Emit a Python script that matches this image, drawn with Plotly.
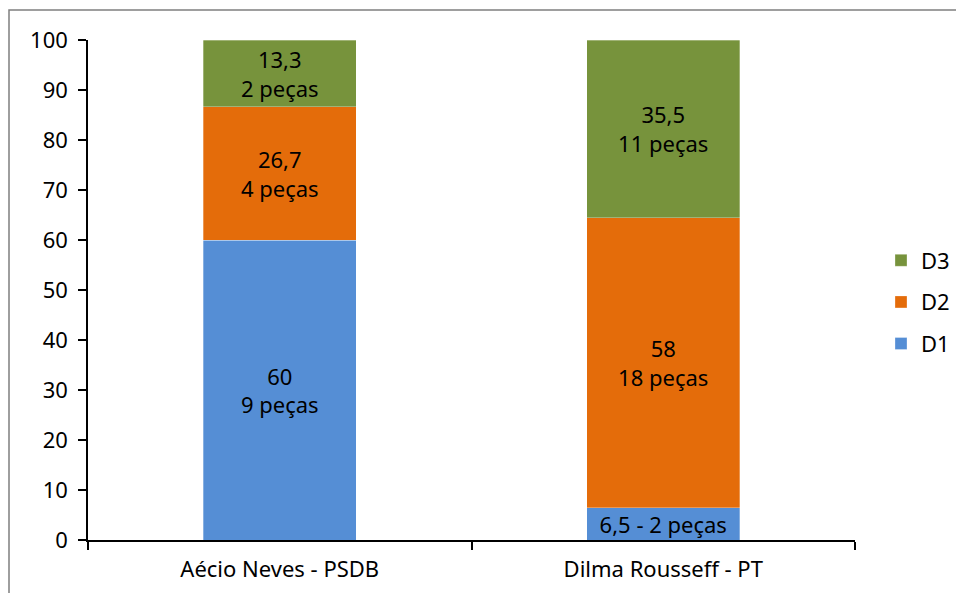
import plotly.graph_objects as go

# Candidates and share of pieces per level (%), with piece counts
candidates = ["Aécio Neves - PSDB", "Dilma Rousseff - PT"]
d1_pct = [60, 6.5]
d2_pct = [26.7, 58]
d3_pct = [13.3, 35.5]
d1_pieces = [9, 2]
d2_pieces = [4, 18]
d3_pieces = [2, 11]
y_ticks = [0, 10, 20, 30, 40, 50, 60, 70, 80, 90, 100]

FONT = "Noto Sans, DejaVu Sans, Verdana, sans-serif"
FS = 22


def fmt(v):
    s = f"{v:g}"
    return s.replace(".", ",")


def labels(pcts, pieces):
    out = []
    for p, n in zip(pcts, pieces):
        if p < 10:
            out.append(f"{fmt(p)} - {n} peças")
        else:
            out.append(f"{fmt(p)}<br>{n} peças")
    return out


series = [
    ("D1", d1_pct, d1_pieces, "#558ED5", 3),
    ("D2", d2_pct, d2_pieces, "#E46C0A", 2),
    ("D3", d3_pct, d3_pieces, "#77933C", 1),
]

fig = go.Figure()
for name, pcts, pieces, color, rank in series:
    fig.add_trace(go.Bar(
        name=name,
        legendgroup=name,
        legendrank=rank,
        x=candidates,
        y=pcts,
        width=0.4,
        marker=dict(color=color, line=dict(width=0.6, color="rgba(255,255,255,0.5)")),
        text=labels(pcts, pieces),
        textposition="inside",
        insidetextanchor="middle",
        constraintext="none",
        textangle=0,
        textfont=dict(family=FONT, size=FS, color="black"),
        hoverinfo="skip",
    ))

fig.update_layout(
    barmode="stack",
    width=956,
    height=593,
    margin=dict(l=88, r=101, t=40, b=53, autoexpand=False),
    paper_bgcolor="white",
    plot_bgcolor="white",
    font=dict(family=FONT, size=FS, color="black"),
    showlegend=True,
    legend=dict(
        x=(881 - 88) / 767, y=0.476, xanchor="left", yanchor="middle",
        traceorder="grouped",
        tracegroupgap=10,
        font=dict(family=FONT, size=FS, color="black"),
        itemwidth=30,
        bgcolor="rgba(0,0,0,0)",
    ),
    xaxis=dict(
        type="category",
        range=[-0.5, 1.5],
        showline=True, linecolor="black", linewidth=1.5,
        ticks="outside", tickson="boundaries", ticklen=8,
        tickcolor="black", tickwidth=1.5,
        ticklabelstandoff=9,
        showgrid=False, zeroline=False,
        tickfont=dict(family=FONT, size=FS, color="black"),
    ),
    yaxis=dict(
        range=[0, 100],
        tickvals=y_ticks,
        showline=True, linecolor="black", linewidth=1.5,
        ticks="outside", ticklen=8, tickcolor="black", tickwidth=1.5,
        ticklabelstandoff=6,
        showgrid=False, zeroline=False,
        tickfont=dict(family=FONT, size=FS, color="black"),
    ),
    shapes=[dict(
        type="rect", xref="paper", yref="paper",
        x0=(9 - 88) / 767, x1=(990 - 88) / 767,
        y0=(540 - 620) / 500, y1=(540 - 10) / 500,
        line=dict(color="#7f7f7f", width=1.5),
        fillcolor="rgba(0,0,0,0)",
        layer="below",
    )],
)

fig.write_html("out.html")
